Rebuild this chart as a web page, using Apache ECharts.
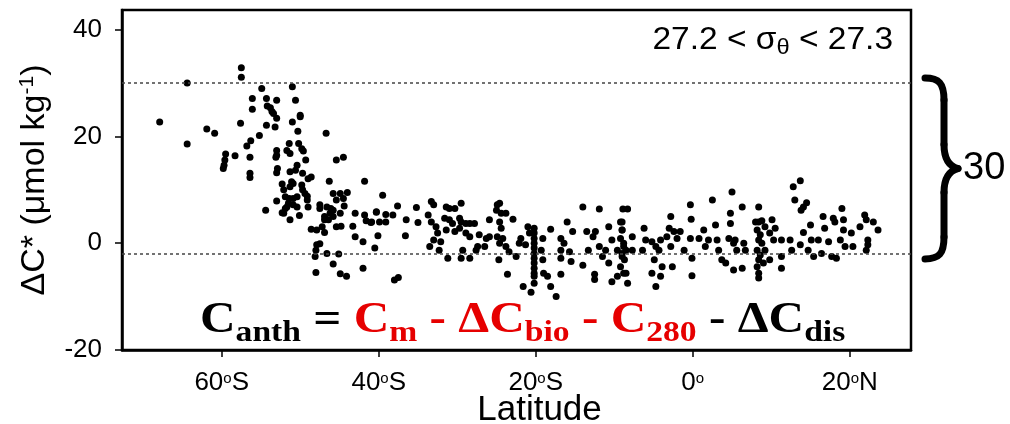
<!DOCTYPE html>
<html><head><meta charset="utf-8">
<script src="https://cdn.jsdelivr.net/npm/echarts@6/dist/echarts.min.js"></script>
<style>html,body{margin:0;padding:0;background:#fff}#c{width:1010px;height:424px}</style>
</head><body><div id="c"></div>
<script>
// ---- data (latitude, ΔC*) ----
const latTicks = [-60, -40, -20, 0, 20];
const yTicks = [-20, 0, 20, 40];
const referenceLines = [30, -2];
const braceLabel = '30';
const densityLabel = '27.2 < σ{sub|θ} < 27.3';

const southernOcean = [[-67.9,22.7],[-64.4,30.0],[-64.4,18.6],[-61.9,21.4],[-60.9,20.6],[-59.5,16.7],[-59.6,15.6],[-59.7,14.6],[-59.8,14.0],[-58.3,16.4],[-57.5,32.9],[-57.5,31.1],[-57.6,22.5],[-56.8,18.2],[-56.3,19.2],[-56.4,16.1],[-56.4,13.1],[-56.4,12.3],[-56.1,27.1],[-56.1,25.1],[-55.2,20.2],[-54.9,29.0],[-54.3,27.1],[-53.0,26.8],[-54.2,25.7],[-53.8,25.4],[-53.6,24.7],[-53.4,24.3],[-53.0,23.4],[-54.3,22.1],[-53.2,21.8],[-54.4,6.2],[-53.0,17.4],[-53.0,16.5],[-53.1,16.1],[-52.9,14.0],[-53.0,13.2],[-53.0,7.9],[-52.3,11.1],[-52.1,10.0],[-52.3,5.7],[-51.9,6.5],[-51.7,17.4],[-51.3,16.8],[-51.4,18.7],[-51.0,29.3],[-50.6,26.8],[-51.0,22.7],[-50.0,24.0],[-50.0,23.7],[-50.3,21.0],[-50.2,18.7],[-49.8,17.7],[-49.6,17.3],[-49.3,15.6],[-50.4,14.6],[-50.6,13.7],[-51.3,13.4],[-49.7,13.1],[-48.6,12.4],[-49.0,12.1],[-51.1,11.5],[-50.9,11.2],[-51.3,10.6],[-49.8,10.9],[-49.7,10.0],[-49.4,9.3],[-49.1,8.8],[-49.1,8.1],[-49.0,6.8],[-51.9,8.7],[-51.4,8.4],[-51.5,7.5],[-51.7,6.8],[-52.1,5.6],[-50.9,8.4],[-50.4,8.7],[-50.9,7.2],[-50.4,6.8],[-51.3,4.4],[-50.1,5.2]];

const subAntarctic = [[-46.7,20.6],[-45.4,15.6],[-44.5,16.1],[-46.3,11.6],[-45.8,9.3],[-44.9,9.3],[-44.0,9.5],[-45.4,8.1],[-44.5,8.4],[-44.4,7.0],[-47.5,7.2],[-47.5,6.5],[-46.6,6.8],[-46.1,6.5],[-45.8,6.2],[-46.2,5.6],[-44.9,5.6],[-46.9,5.0],[-45.8,5.0],[-46.9,4.4],[-46.4,4.4],[-48.6,2.6],[-47.9,2.5],[-47.2,3.1],[-46.9,2.0],[-45.4,3.1],[-44.8,3.2],[-43.3,3.2],[-43.0,5.6],[-41.8,5.3],[-41.6,4.2],[-41.0,3.9],[-40.3,5.8],[-41.8,11.6],[-43.0,1.2],[-42.0,0.3],[-40.5,-0.9],[-47.9,-0.3],[-47.5,-0.1],[-48.0,-1.3],[-48.1,-2.5],[-46.6,-1.9],[-45.1,-2.0],[-45.8,-3.9],[-48.0,-5.5],[-44.9,-5.7],[-44.1,-6.2],[-42.0,-4.7],[-39.5,9.0],[-40.3,5.9],[-39.1,5.4],[-38.2,5.3],[-37.6,7.0],[-40.9,4.0],[-39.9,4.0],[-39.1,4.0],[-40.1,1.4],[-38.0,-6.9],[-37.5,-6.4],[-36.5,4.4],[-36.6,1.4],[-35.2,6.7],[-35.0,3.9]];

const subtropical = [[-33.3,7.8],[-33.0,7.2],[-33.7,5.3],[-33.3,4.0],[-32.7,3.1],[-32.5,1.9],[-33.0,0.6],[-32.1,0.3],[-33.5,-0.6],[-32.3,-1.3],[-31.2,-2.8],[-31.4,6.8],[-31.0,6.5],[-30.3,6.5],[-31.6,4.7],[-31.0,4.4],[-30.6,3.7],[-31.4,2.5],[-30.3,2.2],[-29.7,2.8],[-29.5,7.5],[-29.7,4.7],[-29.5,4.0],[-28.9,3.7],[-28.4,3.7],[-27.8,3.7],[-28.9,1.9],[-28.4,1.2],[-29.3,-1.3],[-28.4,-2.8],[-27.6,-1.3],[-27.4,-0.6],[-29.5,-2.8],[-26.5,-0.6],[-26.3,0.9],[-27.2,1.6],[-25.9,1.2],[-25.9,4.4],[-24.9,7.2],[-24.6,7.5],[-25.0,6.2],[-24.4,5.6],[-23.8,5.6],[-22.9,4.5],[-24.6,4.0],[-24.4,2.8],[-24.9,1.2],[-24.2,0.9],[-24.6,0.0],[-24.7,-3.1],[-23.6,-5.8],[-23.8,-0.6],[-23.4,-1.6],[-22.5,-2.5],[-22.1,0.0],[-21.9,0.9],[-21.3,-0.3],[-21.0,3.1],[-20.8,1.9],[-20.2,2.8],[-20.2,1.9],[-20.2,0.9],[-20.2,0.0],[-20.2,-0.9],[-20.2,-1.9],[-20.2,-2.8],[-20.2,-3.7],[-20.2,-4.7],[-20.2,-5.6],[-20.2,-6.2],[-19.1,0.9],[-19.3,-1.3],[-19.1,-3.1],[-19.0,-5.6],[-21.6,-8.1],[-20.6,-9.2],[-20.2,-7.5],[-18.5,-6.2],[-18.1,-8.1],[-18.1,2.6],[-17.4,-10.0],[-16.8,0.9],[-16.8,-1.3],[-16.8,-2.8],[-16.4,0.0],[-16.8,-5.8],[-16.0,4.0],[-15.7,-1.6],[-15.5,-3.4],[-15.3,2.2],[-14.0,6.8],[-13.5,2.2],[-13.3,-1.3],[-14.0,-4.1],[-12.7,1.2],[-12.5,-5.8],[-12.5,-6.8],[-11.9,6.4],[-12.4,2.2],[-11.9,-0.6],[-11.5,-2.5],[-11.1,-1.3],[-10.7,3.1],[-10.7,-3.7],[-10.3,0.6],[-10.3,-7.2],[-9.6,-1.3],[-9.6,-6.2],[-9.2,4.0],[-9.0,2.5],[-8.8,0.0],[-9.0,-2.5],[-8.8,-5.6],[-8.3,6.4],[-8.5,-1.3]];

const equatorial = [[-8.9,6.4],[-9.0,4.0],[-9.0,2.5],[-9.2,0.9],[-8.8,-0.6],[-9.0,-1.9],[-8.7,-3.1],[-9.2,-4.4],[-8.5,-5.6],[-8.3,-7.5],[-7.7,1.2],[-7.7,-1.3],[-6.2,2.8],[-6.0,0.6],[-6.4,-1.3],[-5.2,0.3],[-4.7,-0.6],[-4.9,-3.1],[-4.3,-1.3],[-4.1,0.6],[-5.2,-5.6],[-4.7,-8.1],[-4.1,-6.2],[-3.9,-4.4],[-2.8,5.0],[-3.0,2.8],[-3.3,1.2],[-2.4,2.2],[-2.8,-0.6],[-2.6,-4.4],[-2.0,0.9],[-1.6,2.2],[-1.1,-1.3],[-0.3,0.9],[-0.1,-2.8],[-0.3,7.2],[-0.2,4.5],[-0.1,-6.1],[0.8,0.9],[1.4,2.5],[1.6,-0.6],[2.0,0.6],[2.5,8.1],[2.9,3.4],[3.1,0.6],[3.3,-1.3],[3.7,-3.1],[4.2,-3.7],[4.6,0.9],[4.8,5.6],[4.8,3.7],[5.0,9.6],[5.2,0.0],[5.4,0.6],[5.6,-1.3],[5.2,-5.0],[6.3,6.8],[6.3,-4.7],[6.5,0.0],[6.7,-1.3]];

const northern = [[8.4,6.8],[8.0,4.0],[8.4,4.0],[8.8,4.2],[9.2,3.1],[8.2,2.5],[8.6,1.6],[8.4,0.6],[8.8,0.0],[8.2,-1.3],[8.6,-2.2],[8.4,-3.1],[8.2,-4.4],[8.4,-5.6],[8.4,-6.5],[9.0,-3.7],[9.2,-1.3],[9.8,-3.1],[10.1,4.4],[10.5,2.8],[10.3,0.6],[9.8,1.9],[11.3,-4.7],[11.3,-2.5],[11.3,0.6],[12.4,0.6],[12.6,-1.3],[13.7,-0.3],[12.8,10.6],[13.7,11.7],[13.0,8.1],[14.1,6.8],[14.5,7.6],[13.8,6.2],[14.1,2.0],[14.7,-1.3],[15.0,3.4],[15.1,0.6],[15.4,-2.5],[16.0,0.6],[16.4,-1.9],[16.6,5.0],[16.8,2.8],[17.3,0.3],[17.9,4.7],[18.1,4.0],[17.7,-2.5],[18.3,-2.8],[18.8,0.6],[19.0,6.5],[19.2,4.4],[19.2,2.5],[19.4,-0.6],[20.2,1.9],[20.4,-0.6],[21.3,3.1],[21.9,5.3],[22.1,4.4],[22.3,0.6],[22.3,-0.3],[22.1,-1.3],[23.0,4.0],[23.6,2.5]];

const xMin = -72.7, xMax = 27.8, yMin = -20, yMax = 43.7;

// ---- chart ----
const SANS = '"Liberation Sans", Arial, Helvetica, sans-serif';
const SERIF = '"Liberation Serif", "Times New Roman", serif';
const chart = echarts.init(document.getElementById('c'), null, { renderer: 'canvas' });

function latLabel(v) {
  if (v < 0) return (-v) + '{o|o}S';
  if (v > 0) return v + '{o|o}N';
  return '0{o|o}';
}
const dotStyle = { color: '#000', opacity: 1 };
function scatter(name, data, extra) {
  return Object.assign({ type: 'scatter', name: name, data: data, symbolSize: 7, itemStyle: dotStyle, silent: true }, extra || {});
}

const RED = '#e60000';
const mainTok = (c) => ({ fontFamily: SERIF, fontWeight: 'bold', fontSize: 44, fill: c, lineHeight: 50, verticalAlign: 'bottom', padding: [0, 0, 5, 0] });
const subTok = (c) => ({ fontFamily: SERIF, fontWeight: 'bold', fontSize: 30, fill: c, lineHeight: 50, verticalAlign: 'bottom', padding: [0, 0, 0, 0] });

chart.setOption({
  animation: false,
  backgroundColor: '#fff',
  grid: { left: 122, right: 99, top: 10, bottom: 74, show: true, borderColor: '#000', borderWidth: 2.5, backgroundColor: 'transparent', outerBoundsMode: 'none', containLabel: false },
  xAxis: {
    type: 'value', min: xMin, max: xMax,
    name: 'Latitude', nameLocation: 'middle', nameGap: 43, nameMoveOverlap: false,
    nameTextStyle: { fontFamily: SANS, fontSize: 35, color: '#000', padding: [0, 0, 0, 46] },
    splitLine: { show: false },
    axisLine: { show: true, onZero: false, lineStyle: { color: '#000', width: 2.5 } },
    axisTick: { show: true, length: 7, lineStyle: { color: '#000', width: 1.5 }, customValues: latTicks },
    axisLabel: { customValues: latTicks, formatter: latLabel, fontFamily: SANS, fontSize: 26, color: '#000', margin: 20,
      rich: { o: { fontFamily: SANS, fontSize: 15, color: '#000', padding: [0, 0, 9, 0] } } }
  },
  yAxis: {
    type: 'value', min: yMin, max: yMax,
    name: 'ΔC* (μmol kg{s|-1})', nameLocation: 'middle', nameGap: 70, nameRotate: 90, nameMoveOverlap: false,
    nameTextStyle: { fontFamily: SANS, fontSize: 34, color: '#000',
      rich: { s: { fontFamily: SANS, fontSize: 21, color: '#000', padding: [0, 0, 14, 0] } } },
    splitLine: { show: false },
    axisLine: { show: true, onZero: false, lineStyle: { color: '#000', width: 2.5 } },
    axisTick: { show: true, length: 7, lineStyle: { color: '#000', width: 1.5 }, customValues: yTicks },
    axisLabel: { customValues: yTicks, fontFamily: SANS, fontSize: 26, color: '#000', margin: 20 }
  },
  series: [
    scatter('southernOcean', southernOcean, {
      markLine: { silent: true, symbol: ['none', 'none'], label: { show: false }, animation: false,
        lineStyle: { type: [3, 3], color: '#444', width: 1.5 },
        data: referenceLines.map(v => ({ yAxis: v })) }
    }),
    scatter('subAntarctic', subAntarctic),
    scatter('subtropical', subtropical),
    scatter('equatorial', equatorial),
    scatter('northern', northern)
  ],
  graphic: [
    { id: 'density', type: 'text', right: 117, top: 25, z: 100, scaleX: 1.08,
      style: { text: densityLabel, fontFamily: SANS, fontSize: 31, fill: '#000',
        rich: { sub: { fontFamily: SANS, fontSize: 22, fill: '#000', padding: [14, 0, 0, 0] } } } },
    { id: 'formula', type: 'text', left: 200, top: 299, z: 100, scaleX: 1.12,
      style: {
        text: '{k|C}{ks|anth}{k| = }{r|C}{rs|m}{r| - ΔC}{rs|bio}{r| - C}{rs|280}{k| - ΔC}{ks|dis}',
        rich: { k: mainTok('#000'), ks: subTok('#000'), r: mainTok(RED), rs: subTok(RED) }
      } }
  ]
});

// brace annotation spanning the two reference lines, placed through the axes
const yTop = chart.convertToPixel({ yAxisIndex: 0 }, referenceLines[0]);
const yBot = chart.convertToPixel({ yAxisIndex: 0 }, referenceLines[1]);
const xR = chart.convertToPixel({ xAxisIndex: 0 }, xMax);
const x0 = xR + 14, yT = yTop - 5, yB = yBot + 5, yM = (yT + yB) / 2, bx = x0 + 19, tx = x0 + 33;
const braceStyle = { stroke: '#000', lineWidth: 7, fill: null, lineCap: 'round' };
function bez(x1, y1, c1x, c1y, c2x, c2y, x2, y2, id) {
  return { id: id, type: 'bezierCurve', z: 100, shape: { x1: x1, y1: y1, cpx1: c1x, cpy1: c1y, cpx2: c2x, cpy2: c2y, x2: x2, y2: y2 }, style: braceStyle };
}
function seg(x1, y1, x2, y2, id) {
  return { id: id, type: 'line', z: 100, shape: { x1: x1, y1: y1, x2: x2, y2: y2 }, style: braceStyle };
}
chart.setOption({
  graphic: [
    bez(x0, yT, x0 + 14, yT, bx, yT + 5, bx, yT + 22, 'b1'),
    seg(bx, yT + 22, bx, yM - 24, 'b2'),
    bez(bx, yM - 24, bx, yM - 8, bx + 6, yM - 2, tx, yM, 'b3'),
    bez(tx, yM, bx + 6, yM + 2, bx, yM + 8, bx, yM + 24, 'b4'),
    seg(bx, yM + 24, bx, yB - 22, 'b5'),
    bez(bx, yB - 22, bx, yB - 5, x0 + 14, yB, x0, yB, 'b6'),
    { id: 'braceText', type: 'text', z: 100, x: tx + 5, y: yM,
      style: { text: braceLabel, fontFamily: SANS, fontSize: 38, fill: '#000', verticalAlign: 'middle' } }
  ]
});
</script>
</body></html>
